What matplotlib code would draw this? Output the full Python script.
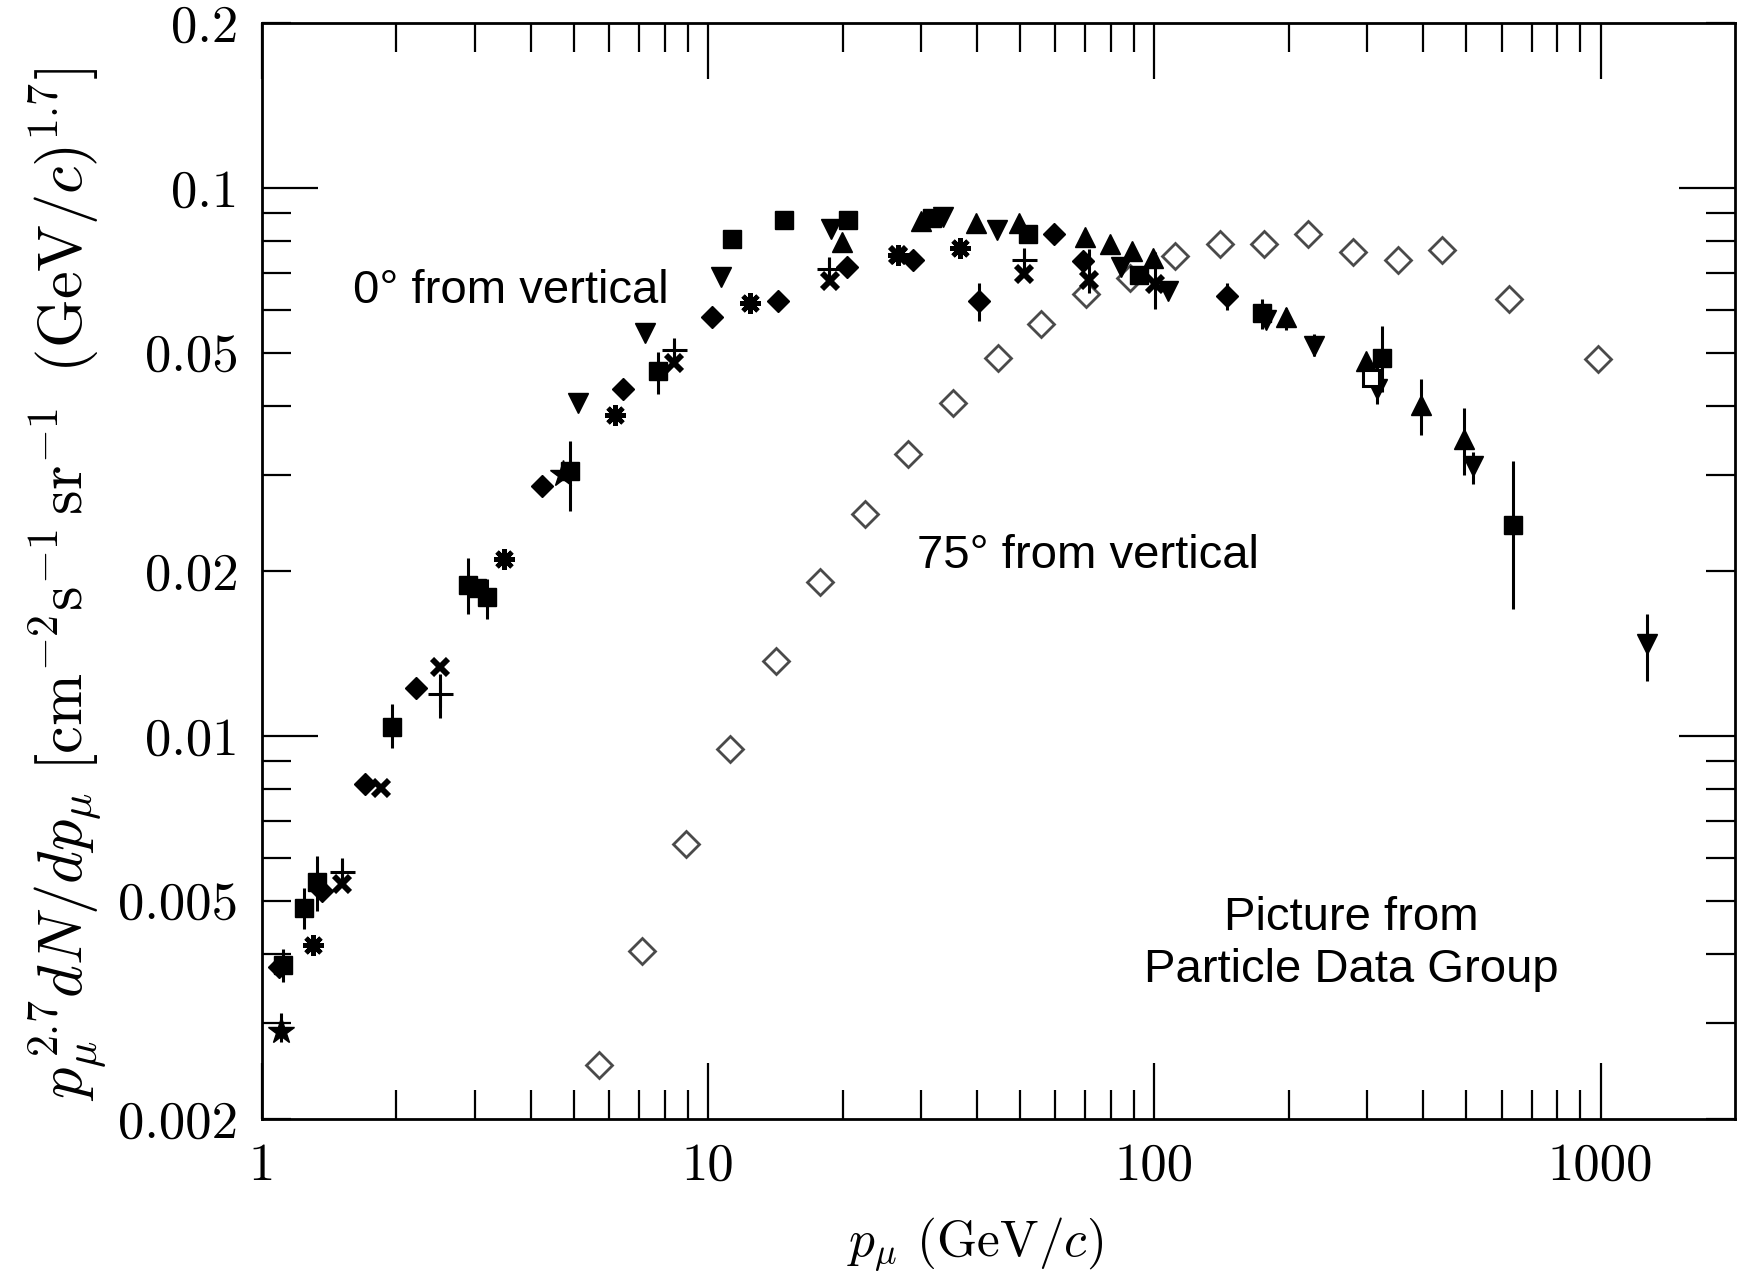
import numpy as np
import matplotlib
matplotlib.use('Agg')
import matplotlib.pyplot as plt
from matplotlib.ticker import FixedLocator, FixedFormatter, NullFormatter

# ---------------- data ----------------
# 0 deg from vertical, filled squares
sq_p  = [1.115, 1.24, 1.33, 1.96, 2.89, 3.03, 3.19, 4.90, 7.73, 11.3, 14.8, 20.6, 31.7, 52.1, 92.3, 174, 324, 637]
sq_y  = [0.00382, 0.00486, 0.00541, 0.01038, 0.01884, 0.01866, 0.0179, 0.0305, 0.0464, 0.0807, 0.0874, 0.0874, 0.0882, 0.0826, 0.0695, 0.0591, 0.0489, 0.0243]
sq_lo = [0.00356, 0.00445, 0.0048, 0.0095, 0.01667, 0.01866, 0.01637, 0.0257, 0.0421, 0.0807, 0.0874, 0.0874, 0.0882, 0.0826, 0.0695, 0.0553, 0.0425, 0.01706]
sq_hi = [0.00409, 0.00528, 0.00605, 0.01146, 0.0211, 0.01866, 0.01936, 0.0346, 0.0502, 0.0807, 0.0874, 0.0874, 0.0882, 0.0826, 0.0695, 0.0628, 0.0559, 0.0317]

# filled down triangles
dn_p  = [5.10, 7.22, 10.7, 18.8, 33.6, 44.4, 84.3, 107, 178, 228, 315, 518, 1271]
dn_y  = [0.0405, 0.0543, 0.0689, 0.0842, 0.0886, 0.0838, 0.0719, 0.0649, 0.0575, 0.0516, 0.0429, 0.0311, 0.01473]
dn_lo = [0.0405, 0.0543, 0.0689, 0.0842, 0.0886, 0.0838, 0.0719, 0.0649, 0.0575, 0.0493, 0.0404, 0.0288, 0.01262]
dn_hi = [0.0405, 0.0543, 0.0689, 0.0842, 0.0886, 0.0838, 0.0719, 0.0649, 0.0575, 0.0541, 0.0477, 0.0330, 0.01668]

# filled up triangles
up_p  = [19.9, 29.9, 39.8, 49.8, 69.8, 79.6, 89.2, 99.4, 197, 298, 396, 495]
up_y  = [0.0796, 0.0870, 0.0862, 0.0862, 0.0815, 0.0792, 0.0767, 0.0746, 0.0581, 0.0484, 0.0402, 0.0349]
up_lo = [0.0796, 0.0870, 0.0862, 0.0862, 0.0815, 0.0792, 0.0767, 0.0746, 0.0551, 0.0484, 0.0355, 0.0299]
up_hi = [0.0796, 0.0870, 0.0862, 0.0862, 0.0815, 0.0792, 0.0767, 0.0746, 0.0605, 0.0484, 0.0448, 0.0397]

# filled diamonds
dia_p  = [1.09, 1.36, 1.70, 2.21, 4.24, 6.44, 10.2, 14.3, 20.5, 28.8, 40.5, 59.5, 69.3, 145.5]
dia_y  = [0.00379, 0.00522, 0.00818, 0.01226, 0.0286, 0.0429, 0.0581, 0.0621, 0.0719, 0.0740, 0.0622, 0.0826, 0.0736, 0.0635]
dia_lo = [0.00379, 0.00522, 0.00818, 0.01226, 0.0286, 0.0429, 0.0581, 0.0621, 0.0719, 0.0740, 0.0572, 0.0795, 0.0736, 0.0600]
dia_hi = [0.00379, 0.00522, 0.00818, 0.01226, 0.0286, 0.0429, 0.0581, 0.0621, 0.0719, 0.0740, 0.0670, 0.0858, 0.0736, 0.0672]

# asterisks
ast_p = [1.30, 3.49, 6.19, 12.4, 26.6, 36.6]
ast_y = [0.00415, 0.0210, 0.0386, 0.0616, 0.0756, 0.0778]

# crosses
x_p  = [1.51, 1.85, 2.51, 8.38, 18.75, 26.6, 51.0, 71.4, 100.5]
x_y  = [0.00536, 0.00803, 0.01334, 0.0480, 0.0676, 0.0756, 0.0698, 0.0679, 0.0667]
x_lo = [0.00536, 0.00803, 0.01334, 0.0480, 0.0676, 0.0756, 0.0698, 0.0643, 0.0602]
x_hi = [0.00536, 0.00803, 0.01334, 0.0480, 0.0676, 0.0756, 0.0698, 0.0774, 0.0765]

# stars
star_p  = [1.10, 4.73]
star_y  = [0.00289, 0.0301]
star_lo = [0.00276, 0.0301]
star_hi = [0.00312, 0.0301]

# plus signs
plus_p  = [1.51, 2.51, 8.38, 18.6, 51.0]
plus_y  = [0.00565, 0.01194, 0.0507, 0.0712, 0.0740]
plus_lo = [0.00535, 0.01079, 0.0495, 0.0690, 0.0687]
plus_hi = [0.00600, 0.01297, 0.0525, 0.0745, 0.0770]

# open square
osq_p = [306]
osq_y = [0.0450]

# 75 deg from vertical, open diamonds
od_p = [5.68, 7.10, 8.9, 11.2, 14.2, 17.8, 22.4, 28.1, 35.3, 44.5, 55.8, 70.1, 88.1,
        111, 140, 176, 221, 278, 352, 442, 622, 984]
od_y = [0.00251, 0.00405, 0.00634, 0.00947, 0.0137, 0.0191, 0.0254, 0.0327, 0.0406,
        0.0489, 0.0565, 0.0640, 0.0686, 0.0753, 0.0789, 0.0789, 0.0823, 0.0764, 0.0739,
        0.0771, 0.0628, 0.0487]

x_ticks = [1, 10, 100, 1000]
x_ticklabels = ['1', '10', '100', '1000']
y_major = [0.01, 0.1]
y_major_labels = ['0.01', '0.1']
y_minor = [0.002, 0.003, 0.004, 0.005, 0.006, 0.007, 0.008, 0.009,
           0.02, 0.03, 0.04, 0.05, 0.06, 0.07, 0.08, 0.09, 0.2]
y_minor_labels = ['0.002', '', '', '0.005', '', '', '', '',
                  '0.02', '', '', '0.05', '', '', '', '', '0.2']

# ---------------- figure ----------------
plt.rcParams['mathtext.fontset'] = 'cm'
plt.rcParams['font.family'] = 'serif'
plt.rcParams['font.serif'] = ['cmr10', 'DejaVu Serif']
plt.rcParams['axes.formatter.use_mathtext'] = True

fig = plt.figure(figsize=(17.39, 12.82), dpi=100)
ax = fig.add_axes([0.1507, 0.1271, 0.8470, 0.8549])
ax.set_xscale('log')
ax.set_yscale('log')

def series(p, y, lo=None, hi=None, **kw):
    p = np.asarray(p); y = np.asarray(y)
    if lo is not None:
        yerr = [y - np.asarray(lo), np.asarray(hi) - y]
    else:
        yerr = None
    ax.errorbar(p, y, yerr=yerr, linestyle='none', ecolor='black',
                elinewidth=2.2, capsize=0, **kw)

series(od_p, od_y, marker='D', ms=13.5, mfc='white', mec='#4a4a4a', mew=2.0, zorder=2)
series(sq_p, sq_y, sq_lo, sq_hi, marker='s', ms=13, color='black', zorder=3)
series(dn_p, dn_y, dn_lo, dn_hi, marker='v', ms=15, color='black', zorder=3)
series(up_p, up_y, up_lo, up_hi, marker='^', ms=15, color='black', zorder=3)
series(dia_p, dia_y, dia_lo, dia_hi, marker='D', ms=11, color='black', zorder=3)
series(ast_p, ast_y, marker=(8, 2, 0), ms=15, mec='black', mew=3.4, zorder=3)
series(x_p, x_y, x_lo, x_hi, marker='x', ms=12, mec='black', mew=4.2, zorder=3)
series(star_p, star_y, star_lo, star_hi, marker='*', ms=20, color='black', zorder=3)
series(plus_p, plus_y, plus_lo, plus_hi, marker='+', ms=18, mec='black', mew=2.2, zorder=3)
series(osq_p, osq_y, marker='s', ms=11, mfc='white', mec='black', mew=2.2, zorder=3)

ax.set_xlim(1, 2000)
ax.set_ylim(0.002, 0.2)

ax.xaxis.set_major_locator(FixedLocator(x_ticks))
ax.xaxis.set_major_formatter(FixedFormatter(x_ticklabels))
x_minor = [m * d for d in (1, 10, 100) for m in range(2, 10)]
ax.xaxis.set_minor_locator(FixedLocator(x_minor))
ax.xaxis.set_minor_formatter(NullFormatter())

ax.yaxis.set_major_locator(FixedLocator(y_major))
ax.yaxis.set_major_formatter(FixedFormatter(y_major_labels))
ax.yaxis.set_minor_locator(FixedLocator(y_minor))
ax.yaxis.set_minor_formatter(FixedFormatter(y_minor_labels))

for s in ax.spines.values():
    s.set_linewidth(2.0)

ax.tick_params(which='both', direction='in', top=True, right=True,
               width=1.6, labelsize=38, pad=17, colors='black')
ax.tick_params(which='major', length=40)
ax.tick_params(which='minor', length=21)

ax.set_ylabel(r'$p_{\mu}^{\,2.7}dN/dp_{\mu}\ [\mathrm{cm}^{-2}\mathrm{s}^{-1}\,\mathrm{sr}^{-1}\;\;(\mathrm{GeV}/c)^{1.7}]$',
              fontsize=45)
ax.yaxis.set_label_coords(-0.104, 0.488)
ax.set_xlabel(r'$p_{\mu}$ (GeV/$c$)', fontsize=37)
ax.xaxis.set_label_coords(0.484, -0.088)

sans = ['Liberation Sans', 'DejaVu Sans']
ax.text(1.598, 0.0616, '0° from vertical', family=sans, fontsize=34, ha='left', va='baseline')
ax.text(29.4, 0.0203, '75° from vertical', family=sans, fontsize=34, ha='left', va='baseline')
ax.text(276.6, 0.00443, 'Picture from', family=sans, fontsize=34, ha='center', va='baseline')
ax.text(276.6, 0.00356, 'Particle Data Group', family=sans, fontsize=34, ha='center', va='baseline')

fig.savefig('out.png', dpi=100)
